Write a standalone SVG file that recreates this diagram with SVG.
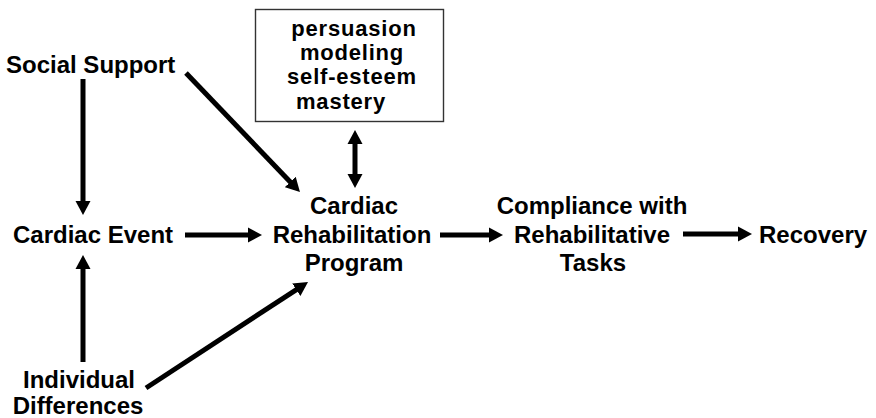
<svg xmlns="http://www.w3.org/2000/svg" width="876" height="418" viewBox="0 0 876 418">
<style>
text{font-family:"Liberation Sans",Arial,sans-serif;font-size:24px;font-weight:bold;fill:#000}
.c{text-anchor:middle}
.bx{font-size:22px;letter-spacing:0.8px}
.ln{stroke:#000;stroke-width:5;fill:none}
.box{fill:#fff;stroke:#333;stroke-width:1.4}
</style>
<defs>
<marker id="ah" markerUnits="userSpaceOnUse" markerWidth="15" markerHeight="16" refX="8" refY="8" orient="auto-start-reverse" viewBox="0 0 15 16">
<path d="M0,0.5 L14,8 L0,15.5 z" fill="#000"/>
</marker>
</defs>
<rect width="876" height="418" fill="#fff"/>
<g id="social-support"><text x="6" y="73">Social Support</text></g>
<g id="cardiac-event"><text x="13" y="243">Cardiac Event</text></g>
<g id="individual-differences"><text class="c" x="79" y="388">Individual</text><text class="c" x="78" y="414">Differences</text></g>
<g id="techniques"><rect class="box" x="255.5" y="9.5" width="188" height="112"/>
<text class="c bx" x="354" y="36">persuasion</text><text class="c bx" x="352" y="60">modeling</text><text class="c bx" x="352" y="84">self-esteem</text><text class="c bx" x="341" y="109">mastery</text></g>
<g id="rehab-program"><text class="c" x="354" y="214">Cardiac</text><text class="c" x="352" y="243">Rehabilitation</text><text class="c" x="354" y="271">Program</text></g>
<g id="compliance"><text class="c" x="592" y="214">Compliance with</text><text class="c" x="592" y="243">Rehabilitative</text><text class="c" x="593" y="271">Tasks</text></g>
<g id="recovery"><text x="759" y="243">Recovery</text></g>
<g id="connectors">
<line class="ln" x1="83" y1="79" x2="83" y2="209" marker-end="url(#ah)"/>
<line class="ln" x1="83" y1="362" x2="83" y2="261" marker-end="url(#ah)"/>
<line class="ln" x1="186" y1="73" x2="295.8" y2="187.7" marker-end="url(#ah)"/>
<line class="ln" x1="146" y1="388" x2="303" y2="285.3" marker-end="url(#ah)"/>
<line class="ln" x1="185" y1="235" x2="256" y2="235" marker-end="url(#ah)"/>
<line class="ln" x1="440" y1="235" x2="497" y2="235" marker-end="url(#ah)"/>
<line class="ln" x1="683" y1="234" x2="746" y2="234" marker-end="url(#ah)"/>
<line class="ln" x1="355" y1="136" x2="355" y2="182" marker-start="url(#ah)" marker-end="url(#ah)"/>
</g>
</svg>
